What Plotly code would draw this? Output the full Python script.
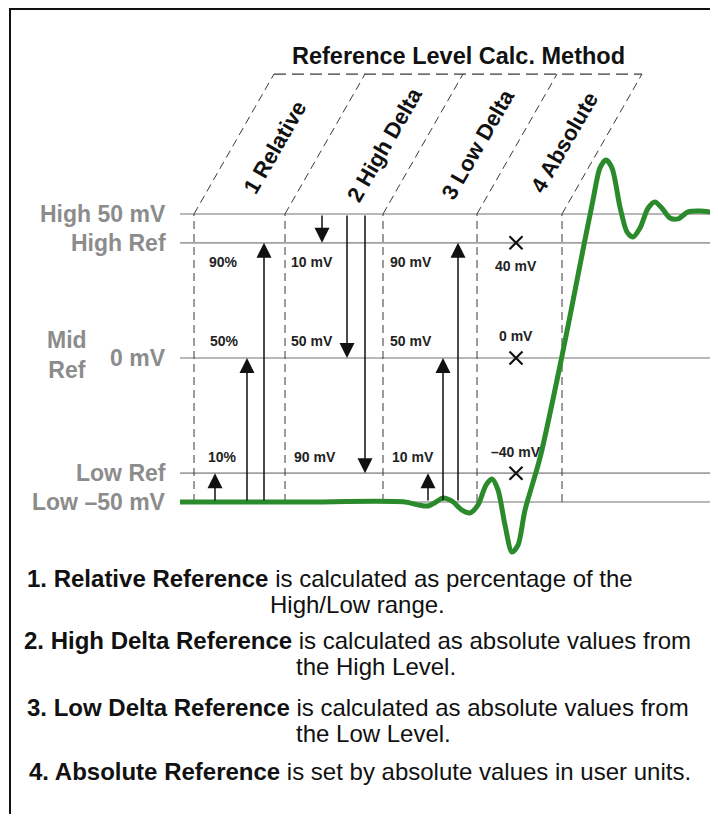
import plotly.graph_objects as go

VW, VH = 718, 822      # browser window
OFF = 8                # page body margin in the browser
W, H = VW - OFF, VH - 2 * OFF
BOTTOM = OFF + H       # last window pixel covered by the figure

# ---------------- data ----------------
# reference levels (mV)
level_names = ["High 50 mV", "High Ref", "0 mV", "Low Ref", "Low \u201350 mV"]
level_values = [50, 40, 0, -40, -50]

# waveform samples (time units, mV)
wave_t = [180, 300, 405, 418, 428, 436, 443, 452, 462, 470, 478, 486, 492, 498, 505, 512,
          518, 525, 540, 562, 580, 593, 600, 606, 612, 620, 627, 633, 640, 648, 655, 662,
          670, 678, 688, 700, 718]
wave_mv = [-50, -50, -50, -51, -51.4, -50, -48.6, -49.7, -52.8, -53.8, -51, -44.1, -42, -45.8,
           -58, -67.4, -65, -52.8, -34.7, 0.7, 32.3, 54.9, 66, 68.75, 66, 52.4, 43.75, 42, 45.1,
           52, 54.2, 52, 48.6, 48.3, 50.7, 51, 50.3]

# method columns
col_edges = [194, 285, 383, 477, 562]
col_titles = ["1 Relative", "2 High Delta", "3 Low Delta", "4 Absolute"]
col_title_x = [275, 385, 478, 564]
col_title_y = [73, 74, 74, 75]
header_top = 98.6
slant_dx = 80

# arrows: (x, from mV, to mV)
arrows_rel = [(215, -50, -40), (247, -50, 0), (264, -50, 40)]
arrows_high = [(322, 50, 40), (347, 50, 0), (365, 50, -40)]
arrows_low = [(428, -50, -40), (443, -50, 0), (458, -50, 40)]

# column value labels: (x, mV, text)
labels_rel = [(207, 33.3, "90%"), (208, 5.9, "50%"), (206, -34.4, "10%")]
labels_high = [(289, 33.3, "10 mV"), (289, 5.9, "50 mV"), (292, -34.4, "90 mV")]
labels_low = [(388, 33.3, "90 mV"), (388, 5.9, "50 mV"), (390, -34.4, "10 mV")]
abs_x = 516
abs_levels = [40, 0, -40]
abs_label_y = [32.0, 7.6, -32.6]
abs_label_text = ["40 mV", "0 mV", "\u201340 mV"]

notes = [
    (25, 578, "<b>1. Relative Reference</b> is calculated as percentage of the"),
    (268, 604, "High/Low range."),
    (22, 640, "<b>2. High Delta Reference</b> is calculated as absolute values from"),
    (294, 666, "the High Level."),
    (25, 707, "<b>3. Low Delta Reference</b> is calculated as absolute values from"),
    (294, 733, "the Low Level."),
    (27, 771, "<b>4. Absolute Reference</b> is set by absolute values in user units."),
]

# ---------------- figure ----------------
Y0 = 358.0
SCALE = 2.88
def py(ypx):
    return (Y0 - ypx) / SCALE

FONT = "Liberation Sans, Arial, sans-serif"
GRAY = "#8c8c8c"

fig = go.Figure()

# horizontal level lines
for v in level_values:
    fig.add_trace(go.Scatter(x=[180, 718], y=[v, v], mode="lines",
                             line=dict(color="#a0a0a0", width=1.7), hoverinfo="skip"))

# vertical dashed column lines + slanted header lines
for e in col_edges:
    fig.add_trace(go.Scatter(x=[e, e], y=[-50, 50], mode="lines",
                             line=dict(color="#3a3a3a", width=1, dash="8px,5px"), hoverinfo="skip"))
    fig.add_trace(go.Scatter(x=[e, e + slant_dx], y=[50, header_top], mode="lines",
                             line=dict(color="#3a3a3a", width=1, dash="8px,5px"), hoverinfo="skip"))
fig.add_trace(go.Scatter(x=[col_edges[0] + slant_dx, col_edges[-1] + slant_dx],
                         y=[header_top, header_top], mode="lines",
                         line=dict(color="#3a3a3a", width=1.3, dash="12px,6px"), hoverinfo="skip"))

# waveform
fig.add_trace(go.Scatter(x=wave_t, y=wave_mv, mode="lines",
                         line=dict(color="#2b8a2b", width=5, shape="spline", smoothing=0.8),
                         hoverinfo="skip"))

# absolute markers
fig.add_trace(go.Scatter(x=[abs_x] * len(abs_levels), y=abs_levels, mode="markers",
                         marker=dict(symbol="x-thin", size=13, line=dict(color="#111", width=2.2)),
                         hoverinfo="skip"))

ann = []
for grp in (arrows_rel, arrows_high, arrows_low):
    for x, y_from, y_to in grp:
        ann.append(dict(x=x, y=y_to, ax=x, ay=y_from, xref="x", yref="y", axref="x", ayref="y",
                        showarrow=True, arrowhead=2, arrowsize=2, arrowwidth=1.5,
                        arrowcolor="#111", text=""))

for grp in (labels_rel, labels_high, labels_low):
    for x, y, t in grp:
        ann.append(dict(x=x, y=y, xref="x", yref="y", text="<b>%s</b>" % t, showarrow=False,
                        xanchor="left", yanchor="middle",
                        font=dict(family=FONT, size=14, color="#222")))
for yv, t in zip(abs_label_y, abs_label_text):
    ann.append(dict(x=abs_x, y=yv, xref="x", yref="y", text="<b>%s</b>" % t, showarrow=False,
                    xanchor="center", yanchor="middle",
                    font=dict(family=FONT, size=14, color="#222")))

# level labels (left)
for name, v in zip(level_names, level_values):
    ann.append(dict(x=168, y=v, xref="x", yref="y", text="<b>%s</b>" % name, showarrow=False,
                    xanchor="right", yanchor="middle",
                    font=dict(family=FONT, size=23, color=GRAY)))
ann.append(dict(x=67, y=1, xref="x", yref="y", text="<b>Mid<br>Ref</b>", showarrow=False,
                xanchor="center", yanchor="middle", align="center",
                font=dict(family=FONT, size=23, color=GRAY)))

# column titles
for t, x, y in zip(col_titles, col_title_x, col_title_y):
    ann.append(dict(x=x, y=y, xref="x", yref="y", text="<b>%s</b>" % t, showarrow=False,
                    textangle=-60, xanchor="center", yanchor="middle",
                    font=dict(family=FONT, size=22, color="#111")))

# header title
ann.append(dict(x=458, y=105, xref="x", yref="y", text="<b>Reference Level Calc. Method</b>",
                showarrow=False, xanchor="center", yanchor="middle",
                font=dict(family=FONT, size=23.5, color="#111")))

# notes
for x, ypx, t in notes:
    ann.append(dict(x=x, y=1 - (ypx - OFF) / H, xref="x", yref="paper", text=t, showarrow=False,
                    xanchor="left", yanchor="middle",
                    font=dict(family=FONT, size=24, color="#111")))

shapes = [
    dict(type="line", xref="paper", yref="paper", x0=(9 - OFF) / W, x1=1, y0=1 - 1 / H, y1=1 - 1 / H,
         line=dict(color="#111", width=2)),
    dict(type="line", xref="paper", yref="paper", x0=(10 - OFF) / W, x1=(10 - OFF) / W, y0=0, y1=1,
         line=dict(color="#111", width=2)),
]

fig.update_layout(
    width=W, height=H, margin=dict(l=0, r=0, t=0, b=0),
    paper_bgcolor="white", plot_bgcolor="white", showlegend=False,
    xaxis=dict(range=[OFF, VW], visible=False, fixedrange=True),
    yaxis=dict(range=[py(BOTTOM), py(OFF)], visible=False, fixedrange=True),
    annotations=ann, shapes=shapes,
)

fig.write_html("out.html", config={"displayModeBar": False})
